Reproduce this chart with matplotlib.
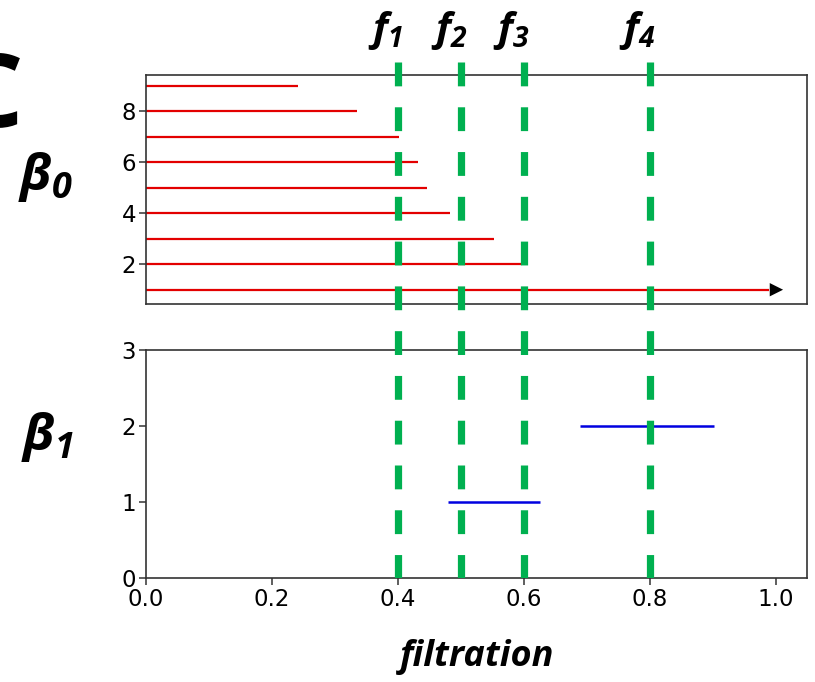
import numpy as np
import matplotlib
matplotlib.use("Agg")
import matplotlib.pyplot as plt

# bold italic math text (f_i, beta_i), italic subscripts too
plt.rcParams['mathtext.fontset'] = 'custom'
plt.rcParams['mathtext.it'] = 'Open Sans:italic:bold'
plt.rcParams['mathtext.rm'] = 'Open Sans:italic:bold'
plt.rcParams['mathtext.bf'] = 'Open Sans:italic:bold'

# beta_0 barcode (birth, death, level)
b0_levels = [1, 2, 3, 4, 5, 6, 7, 8, 9]
b0_birth = [0, 0, 0, 0, 0, 0, 0, 0, 0]
b0_death = [0.99, 0.597, 0.553, 0.483, 0.447, 0.432, 0.402, 0.335, 0.241]

# beta_1 barcode
b1_levels = [1, 2]
b1_birth = [0.479, 0.690]
b1_death = [0.626, 0.903]

# filtration values
f_vals = [0.4, 0.5, 0.6, 0.8]
f_names = ['$f_1$', '$f_2$', '$f_3$', '$f_4$']

xt = [0.0, 0.2, 0.4, 0.6, 0.8, 1.0]
xt_lab = ['0.0', '0.2', '0.4', '0.6', '0.8', '1.0']

green = '#00b050'
spine_col = '#333333'

fig = plt.figure(figsize=(8.15, 6.82), dpi=100)

L, W = 146 / 815, (807 - 146) / 815
ax0 = fig.add_axes([L, 1 - 304 / 682, W, (304 - 75) / 682])
ax1 = fig.add_axes([L, 1 - 578 / 682, W, (578 - 350) / 682])

# top barcode
ax0.hlines(b0_levels, b0_birth, b0_death, color='#e30000', lw=1.6)
ax0.annotate('', xy=(1.012, b0_levels[0]), xytext=(0.97, b0_levels[0]),
             arrowprops=dict(arrowstyle='-|>', color='black', lw=0,
                             mutation_scale=24, shrinkA=0, shrinkB=0))
ax0.set_xlim(0, 1.05)
ax0.set_ylim(0.44, 9.42)
ax0.set_yticks([2, 4, 6, 8])
ax0.set_xticks([])

# bottom barcode
ax1.hlines(b1_levels, b1_birth, b1_death, color='#0000e0', lw=1.8)
ax1.set_xlim(0, 1.05)
ax1.set_ylim(0, 3)
ax1.set_yticks([0, 1, 2, 3])
ax1.set_xticks(xt)
ax1.set_xticklabels(xt_lab)

for ax in (ax0, ax1):
    for s in ax.spines.values():
        s.set_color(spine_col)
        s.set_linewidth(1.2)
    ax.tick_params(labelsize=16.5, length=5, width=1.1, color=spine_col, pad=2)

fig.text(477 / 815, 1 - 657 / 682, 'filtration', fontsize=26, fontweight='bold',
         fontstyle='italic', family='Open Sans', ha='center', va='center')

# overlay for dashed filtration lines
ov = fig.add_axes([L, 1 - 578 / 682, W, (578 - 62) / 682])
ov.set_xlim(0, 1.05)
ov.set_ylim(0, 1)
ov.axis('off')
ov.patch.set_alpha(0)
for x in f_vals:
    ov.plot([x, x], [1, 0], color=green, lw=5.2, linestyle=(0, (3.3, 2.9)),
            solid_capstyle='butt', dash_capstyle='butt')
for x, n in zip(f_vals, f_names):
    fig.text(L + (x - 0.019) / 1.05 * W, 1 - 31 / 682, n, fontsize=29,
             ha='center', va='center')

# panel labels
fig.text(0.056, 1 - 177 / 682, r'$\beta_0$', fontsize=37, ha='center', va='center')
fig.text(0.058, 1 - 437 / 682, r'$\beta_1$', fontsize=37, ha='center', va='center')
fig.text(-0.052, 1 - 100 / 682, 'C', fontsize=74, fontweight='bold',
         family='Open Sans', ha='left', va='center')

fig.savefig('out.png', dpi=100)
